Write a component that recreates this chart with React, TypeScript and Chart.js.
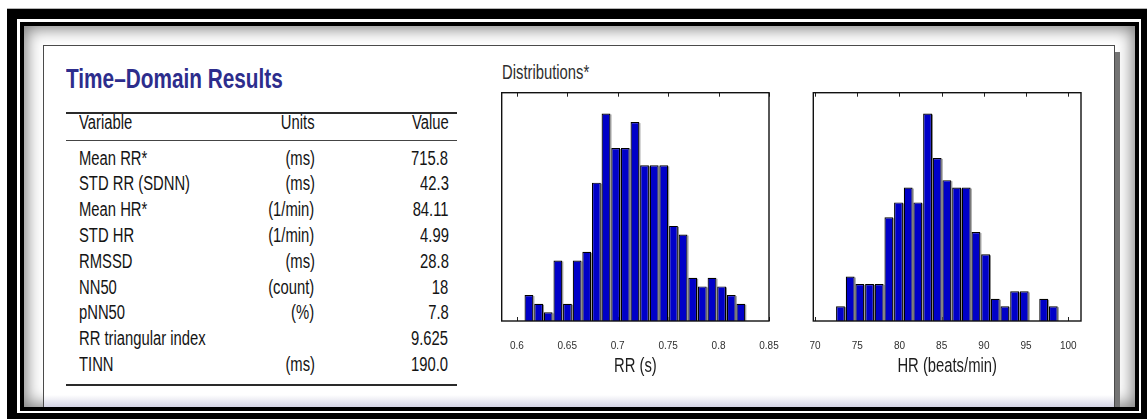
import React, { useEffect, useRef } from 'react';
import { Chart, registerables } from 'chart.js';

Chart.register(...registerables);

const W = 1147;
const H = 419;
const SANS = "'Liberation Sans', Arial, Helvetica, sans-serif";
const CONDENSE = 0.74;
const TEXT_SIZE = 20;
const BAR_BLUE = '#0000c8';

// ---- Table data ----
const tableTitle = 'Time–Domain Results';
const tableHeader = ['Variable', 'Units', 'Value'];
const tableVariables = ['Mean RR*', 'STD RR (SDNN)', 'Mean HR*', 'STD HR', 'RMSSD', 'NN50', 'pNN50', 'RR triangular index', 'TINN'];
const tableUnits = ['(ms)', '(ms)', '(1/min)', '(1/min)', '(ms)', '(count)', '(%)', '', '(ms)'];
const tableValues = ['715.8', '42.3', '84.11', '4.99', '28.8', '18', '7.8', '9.625', '190.0'];

// ---- RR histogram ----
const rrBins = [0.612, 0.6216, 0.6311, 0.6407, 0.6502, 0.6598, 0.6693, 0.6789, 0.6884, 0.698, 0.7075, 0.7171, 0.7266, 0.7362, 0.7457, 0.7553, 0.7648, 0.7744, 0.7839, 0.7935, 0.803, 0.8126, 0.8221];
const rrCounts = [3, 2, 1, 7, 2, 7, 8, 16, 24, 20, 20, 23, 18, 18, 18, 11, 10, 5, 4, 5, 4, 3, 2];
const rrTickValues = [0.6, 0.65, 0.7, 0.75, 0.8, 0.85];
const rrTickLabels = ['0.6', '0.65', '0.7', '0.75', '0.8', '0.85'];
const rrAxisMin = 0.585;
const rrAxisMax = 0.85;
const rrCountMax = 26.4;

// ---- HR histogram ----
const hrBins = [73.02, 74.17, 75.31, 76.46, 77.6, 78.75, 79.89, 81.04, 82.18, 83.33, 84.47, 85.62, 86.77, 87.91, 89.06, 90.2, 91.35, 92.49, 93.64, 94.78, 95.93, 97.08, 98.22];
const hrCounts = [2, 6, 5, 5, 5, 14, 16, 18, 16, 28, 22, 19, 18, 18, 12, 9, 3, 2, 4, 4, null, 3, 2];
const hrTickValues = [70, 75, 80, 85, 90, 95, 100];
const hrTickLabels = ['70', '75', '80', '85', '90', '95', '100'];
const hrAxisMin = 69.8;
const hrAxisMax = 101.5;
const hrCountMax = 30.8;

const histPlugin = {
  id: 'histFrame',
  beforeDatasetsDraw(chart: any) {
    const { ctx, chartArea: a, scales } = chart;
    const xs = scales.x;
    ctx.save();
    ctx.strokeStyle = '#222';
    ctx.lineWidth = 1;
    xs.ticks.forEach((t: any) => {
      const p = Math.round(xs.getPixelForValue(t.value)) + 0.5;
      ctx.beginPath();
      ctx.moveTo(p, a.top);
      ctx.lineTo(p, a.top + 4);
      ctx.moveTo(p, a.bottom);
      ctx.lineTo(p, a.bottom - 4);
      ctx.stroke();
    });
    const meta = chart.getDatasetMeta(0);
    ctx.fillStyle = '#8c8c8c';
    meta.data.forEach((el: any) => {
      const p = el.getProps(['x', 'y', 'base', 'width'], true);
      if (p.y == null || isNaN(p.y) || isNaN(p.base) || p.base - p.y < 1) return;
      ctx.fillRect(p.x + p.width / 2, p.y + 1, 1, p.base - p.y - 1);
    });
    ctx.restore();
  },
  afterDatasetsDraw(chart: any) {
    const { ctx, chartArea: a } = chart;
    ctx.save();
    ctx.strokeStyle = '#111';
    ctx.lineWidth = 1.4;
    ctx.strokeRect(a.left, a.top, a.right - a.left, a.bottom - a.top);
    ctx.restore();
  },
  afterDraw(chart: any) {
    const { ctx, chartArea: a } = chart;
    const cfg = chart.options.plugins.histFrame || {};
    if (!cfg.title) return;
    ctx.save();
    ctx.translate((a.left + a.right) / 2, cfg.titleBaseline);
    ctx.scale(CONDENSE, 1);
    ctx.font = `${TEXT_SIZE}px ${SANS}`;
    ctx.fillStyle = '#1e1e1e';
    ctx.textAlign = 'center';
    ctx.textBaseline = 'alphabetic';
    ctx.fillText(cfg.title, 0, 0);
    ctx.restore();
  },
};

type HistProps = {
  bins: number[];
  counts: (number | null)[];
  xMin: number;
  xMax: number;
  yMax: number;
  tickValues: number[];
  tickLabels: string[];
  title: string;
  left: number;
  top: number;
  width: number;
  height: number;
  padLeft: number;
  padTop: number;
  padRight: number;
  axisHeight: number;
};

function Histogram(props: HistProps) {
  const ref = useRef<HTMLCanvasElement | null>(null);
  useEffect(() => {
    if (!ref.current) return;
    const chart = new Chart(ref.current, {
      type: 'bar',
      data: {
        datasets: [
          {
            data: props.bins.map((x, i) => ({ x, y: props.counts[i] })) as any,
            backgroundColor: BAR_BLUE,
            borderColor: '#000',
            borderWidth: 1.2,
            barPercentage: 0.92,
            categoryPercentage: 1,
          },
        ],
      },
      options: {
        animation: false,
        responsive: false,
        events: [],
        layout: { padding: { left: props.padLeft, top: props.padTop, right: props.padRight, bottom: 0 } },
        plugins: {
          legend: { display: false },
          tooltip: { enabled: false },
          histFrame: { title: props.title, titleBaseline: 372 - props.top },
        } as any,
        scales: {
          x: {
            type: 'linear',
            min: props.xMin,
            max: props.xMax,
            offset: false,
            grid: { display: false, offset: false },
            border: { display: false },
            afterBuildTicks: (s: any) => {
              s.ticks = props.tickValues.map((v) => ({ value: v }));
            },
            afterFit: (s: any) => {
              s.height = props.axisHeight;
            },
            ticks: {
              autoSkip: false,
              maxRotation: 0,
              padding: 11,
              color: '#2e2e2e',
              font: { family: SANS, size: 10 },
              callback: (_v: any, i: number) => props.tickLabels[i],
            },
            title: { display: false },
          } as any,
          y: { display: false, min: 0, max: props.yMax },
        },
      },
      plugins: [histPlugin],
    });
    return () => chart.destroy();
  }, []);
  return (
    <canvas
      ref={ref}
      width={props.width}
      height={props.height}
      style={{ position: 'absolute', left: props.left, top: props.top, width: props.width, height: props.height }}
    />
  );
}

type TxtProps = { x: number; y: number; text: string; size?: number; scale?: number; align?: 'left' | 'right'; weight?: number; color?: string };

function Txt({ x, y, text, size = TEXT_SIZE, scale = CONDENSE, align = 'left', weight = 400, color = '#141414' }: TxtProps) {
  const style: any = {
    position: 'absolute',
    top: y - 0.8465 * size,
    fontFamily: SANS,
    fontSize: size,
    lineHeight: size + 'px',
    fontWeight: weight,
    color,
    whiteSpace: 'nowrap',
    transform: `scaleX(${scale})`,
    transformOrigin: align === 'left' ? 'left center' : 'right center',
  };
  if (align === 'left') style.left = x;
  else style.right = W - x;
  return <div style={style}>{text}</div>;
}

function Rule({ y, h, color }: { y: number; h: number; color: string }) {
  return <div style={{ position: 'absolute', left: 66, top: y, width: 391, height: h, background: color }} />;
}

export default function App() {
  const colVar = 79;
  const colUnits = 314.5;
  const colValue = 448.5;
  const rowBase = 164.5;
  const rowStep = 25.8;
  return (
    <div style={{ position: 'fixed', left: 0, top: 0, width: W, height: H, overflow: 'hidden', background: '#fff' }}>
      <div style={{ position: 'absolute', left: 7, top: 8, width: 1140, height: 1, background: '#b5b5b5' }} />
      <div style={{ position: 'absolute', left: 7, top: 9, width: 1144, height: 414, border: '10px solid #000', boxSizing: 'border-box' }} />
      <div
        style={{
          position: 'absolute',
          left: 20,
          top: 22,
          width: 1119,
          height: 389,
          border: '4px solid #000',
          boxSizing: 'border-box',
          overflow: 'hidden',
          background: '#fff',
          boxShadow: 'inset 0 0 16px 3px rgba(0,0,0,0.5)',
        }}
      >
        <div
          style={{
            position: 'absolute',
            left: 19,
            top: 18.5,
            width: 1072,
            height: 362.5,
            boxSizing: 'border-box',
            borderLeft: '1.5px solid #4a4a4a',
            borderTop: '1.5px solid #4a4a4a',
            borderRight: '1.5px solid #4a4a4a',
            boxShadow: '5px 7px 0 #747474',
            background: 'linear-gradient(to bottom, #ffffff calc(100% - 12px), #d4d4e4 100%)',
          }}
        />
      </div>

      {/* Table */}
      <Txt x={66} y={89} text={tableTitle} size={27} scale={0.77} weight={700} color="#2d2d8c" />
      <Rule y={112} h={2} color="#2a2a2a" />
      <Txt x={colVar} y={128.5} text={tableHeader[0]} />
      <Txt x={colUnits} y={128.5} text={tableHeader[1]} align="right" />
      <Txt x={colValue} y={128.5} text={tableHeader[2]} align="right" />
      <Rule y={139.5} h={1.5} color="#444" />
      {tableVariables.map((v, i) => (
        <React.Fragment key={v}>
          <Txt x={colVar} y={rowBase + rowStep * i} text={v} />
          {tableUnits[i] ? <Txt x={colUnits} y={rowBase + rowStep * i} text={tableUnits[i]} align="right" /> : null}
          <Txt x={colValue} y={rowBase + rowStep * i} text={tableValues[i]} align="right" />
        </React.Fragment>
      ))}
      <Rule y={384} h={2} color="#2a2a2a" />

      {/* Distributions */}
      <Txt x={502} y={79} text="Distributions*" color="#2e2e2e" />
      <Histogram
        bins={rrBins}
        counts={rrCounts}
        xMin={rrAxisMin}
        xMax={rrAxisMax}
        yMax={rrCountMax}
        tickValues={rrTickValues}
        tickLabels={rrTickLabels}
        title="RR (s)"
        left={490}
        top={85}
        width={310}
        height={300}
        padLeft={11.7}
        padTop={7.7}
        padRight={31}
        axisHeight={64}
      />
      <Histogram
        bins={hrBins}
        counts={hrCounts}
        xMin={hrAxisMin}
        xMax={hrAxisMax}
        yMax={hrCountMax}
        tickValues={hrTickValues}
        tickLabels={hrTickLabels}
        title="HR (beats/min)"
        left={795}
        top={85}
        width={320}
        height={300}
        padLeft={18.3}
        padTop={7.7}
        padRight={34}
        axisHeight={64}
      />
    </div>
  );
}
